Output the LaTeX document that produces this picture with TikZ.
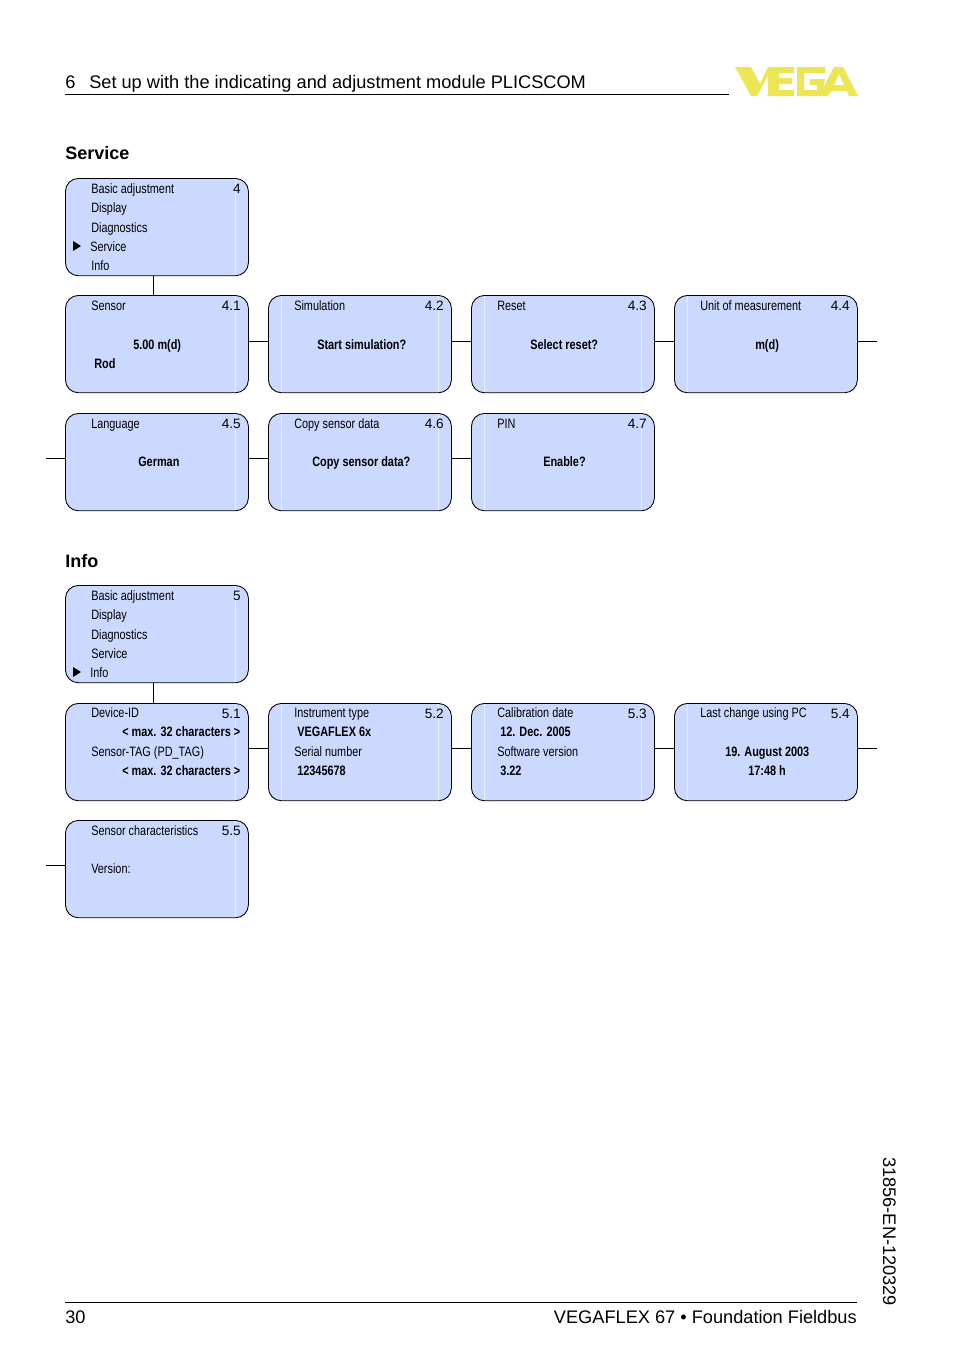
\documentclass[tikz,border=0pt]{standalone}
\usepackage{fontspec}
\setmainfont{Liberation Sans}
\newfontfamily\narrowfont[FakeStretch=0.8]{Liberation Sans}
\definecolor{boxblue}{RGB}{204,217,255}
\definecolor{vegayellow}{RGB}{236,230,85}
\tikzset{
	menubox/.style={draw, fill=boxblue, rounded corners=9.75pt, line width=0.65pt, anchor=north west, inner sep=0pt, minimum width=137.25pt, minimum height=73pt},
	seam/.style={white!60!boxblue, line width=0.6pt},
	menutext/.style={anchor=base west, inner sep=0pt, yshift=-0.75pt, font=\narrowfont\fontsize{10.2}{12}\selectfont},
	menubold/.style={anchor=base west, inner sep=0pt, font=\narrowfont\bfseries\fontsize{10.22}{12}\selectfont},
	menunum/.style={anchor=base east, inner sep=0pt, font=\fontsize{10.2}{12}\selectfont},
	headtext/.style={anchor=base west, inner sep=0pt, font=\bfseries\fontsize{13.5}{16}\selectfont},
	pagetext/.style={inner sep=0pt, font=\fontsize{13.65}{16}\selectfont},
	conn/.style={line width=0.65pt}
}
% light stripes near the box sides
\def\seamL#1{\draw[seam] ([xshift=9.75pt,yshift=-0.8pt]#1.north west)--([xshift=9.75pt,yshift=0.8pt]#1.south west);}
\def\seamR#1{\draw[seam] ([xshift=-9.75pt,yshift=-0.8pt]#1.north east)--([xshift=-9.75pt,yshift=0.8pt]#1.south east);}
\begin{document}
\begin{tikzpicture}[x=0.75pt,y=-0.75pt, line join=round]
	\useasboundingbox (0,0) rectangle (954,1354);
	% page head
	\node[pagetext,anchor=base west] (chapno) at (65,88) {6};
	\node[pagetext,anchor=base west] (chaptitle) at (89,88) {Set up with the indicating and adjustment module PLICSCOM};
	\coordinate (headl) at (65,94.7);
	\coordinate (headr) at (729,94.7);
	\draw[conn] (headl)--(headr);
	% logo
	\fill[vegayellow] (735,67)--(751,67)--(760,84)--(768,67)--(771,67)--(771,70)--(757,96)--(751,96)--cycle;
	\fill[vegayellow] (771,67)--(794,67)--(794,73)--(779,73)--(779,78)--(792,78)--(792,84)--(779,84)--(779,90)--(794,90)--(794,96)--(768,96)--(768,76)--cycle;
	\fill[vegayellow,even odd rule] (797,67)--(825,67)--(825,73)--(804,73)--(804,90)--(817,90)--(817,85)--(810,85)--(810,79)--(825,79)--(822,96)--(797,96)--cycle;
	\fill[vegayellow,even odd rule] (834,67)--(843,67)--(858,96)--(849,96)--(847,91)--(831,91)--(828,96)--(819,96)--cycle (839,74)--(834,85)--(844,85)--cycle;
	% Service
	\node[headtext] (hservice) at (65,159) {Service};
	\node[menubox] (s4) at (65,178) {};
	\node[menubox] (s41) at (65,295) {};
	\node[menubox] (s42) at (268,295) {};
	\node[menubox] (s43) at (471,295) {};
	\node[menubox] (s44) at (674,295) {};
	\node[menubox] (s45) at (65,413) {};
	\node[menubox] (s46) at (268,413) {};
	\node[menubox] (s47) at (471,413) {};
	\seamR{s4} \seamR{s41} \seamL{s42} \seamR{s42} \seamL{s43} \seamR{s43} \seamL{s44}
	\seamR{s45} \seamL{s46} \seamR{s46} \seamL{s47} \seamR{s47}
	\coordinate (tap4) at (153,286);
	\coordinate (row1) at (660,341);
	\coordinate (row2) at (660,458);
	\coordinate (row1end) at (877,341);
	\coordinate (row2start) at (46,458);
	\draw[conn] (tap4 |- s4.south)--(tap4 |- s41.north);
	\draw[conn] (s41.east |- row1)--(s42.west |- row1);
	\draw[conn] (s42.east |- row1)--(s43.west |- row1);
	\draw[conn] (s43.east |- row1)--(s44.west |- row1);
	\draw[conn] (s44.east |- row1)--(row1end);
	\draw[conn] (row2start)--(s45.west |- row2);
	\draw[conn] (s45.east |- row2)--(s46.west |- row2);
	\draw[conn] (s46.east |- row2)--(s47.west |- row2);
	\fill (73,241)--(81,246)--(73,251)--cycle;
	\node[menutext] (a1) at (91,192) {Basic adjustment};
	\node[menutext] (a2) at (91,211) {Display};
	\node[menutext] (a3) at (91,231) {Diagnostics};
	\node[menutext] (a4) at (90,250) {Service};
	\node[menutext] (a5) at (91,269) {Info};
	\node[menunum] (na) at (241,193) {4};
	\node[menutext] (b1) at (91,309) {Sensor};
	\node[menunum] (nb1) at (241,310) {4.1};
	\node[menubold] (b2) at (133,349) {5.00 m(d)};
	\node[menubold] (b3) at (94,368) {Rod};
	\node[menutext] (c1) at (294,309) {Simulation};
	\node[menunum] (nc1) at (444,310) {4.2};
	\node[menubold] (c2) at (317,349) {Start simulation?};
	\node[menutext] (d1) at (497,309) {Reset};
	\node[menunum] (nd1) at (647,310) {4.3};
	\node[menubold] (d2) at (530,349) {Select reset?};
	\node[menutext] (e1) at (700,309) {Unit of measurement};
	\node[menunum] (ne1) at (850,310) {4.4};
	\node[menubold] (e2) at (755,349) {m(d)};
	\node[menutext] (f1) at (91,427) {Language};
	\node[menunum] (nf1) at (241,428) {4.5};
	\node[menubold] (f2) at (138,466) {German};
	\node[menutext] (g1) at (294,427) {Copy sensor data};
	\node[menunum] (ng1) at (444,428) {4.6};
	\node[menubold] (g2) at (312,466) {Copy sensor data?};
	\node[menutext] (h1) at (497,427) {PIN};
	\node[menunum] (nh1) at (647,428) {4.7};
	\node[menubold] (h2) at (543,466) {Enable?};
	% Info
	\node[headtext] (hinfo) at (65,567) {Info};
	\node[menubox] (i5) at (65,585) {};
	\node[menubox] (i51) at (65,703) {};
	\node[menubox] (i52) at (268,703) {};
	\node[menubox] (i53) at (471,703) {};
	\node[menubox] (i54) at (674,703) {};
	\node[menubox] (i55) at (65,820) {};
	\seamR{i5} \seamR{i51} \seamL{i52} \seamR{i52} \seamL{i53} \seamR{i53} \seamL{i54} \seamR{i55}
	\coordinate (tap5) at (153,693);
	\coordinate (row3) at (660,748);
	\coordinate (row4) at (660,865);
	\coordinate (row3end) at (877,748);
	\coordinate (row4start) at (46,865);
	\draw[conn] (tap5 |- i5.south)--(tap5 |- i51.north);
	\draw[conn] (i51.east |- row3)--(i52.west |- row3);
	\draw[conn] (i52.east |- row3)--(i53.west |- row3);
	\draw[conn] (i53.east |- row3)--(i54.west |- row3);
	\draw[conn] (i54.east |- row3)--(row3end);
	\draw[conn] (row4start)--(i55.west |- row4);
	\fill (73,667)--(81,672)--(73,677)--cycle;
	\node[menutext] (j1) at (91,599) {Basic adjustment};
	\node[menutext] (j2) at (91,618) {Display};
	\node[menutext] (j3) at (91,638) {Diagnostics};
	\node[menutext] (j4) at (91,657) {Service};
	\node[menutext] (j5) at (90,676) {Info};
	\node[menunum] (nj) at (241,600) {5};
	\node[menutext] (k1) at (91,716) {Device-ID};
	\node[menunum] (nk) at (241,718) {5.1};
	\node[menubold] (k2) at (122,736) {< max. 32 characters >};
	\node[menutext] (k3) at (91,755) {Sensor-TAG (PD\_TAG)};
	\node[menubold] (k4) at (122,775) {< max. 32 characters >};
	\node[menutext] (l1) at (294,716) {Instrument type};
	\node[menunum] (nl) at (444,718) {5.2};
	\node[menubold] (l2) at (297,736) {VEGAFLEX 6x};
	\node[menutext] (l3) at (294,755) {Serial number};
	\node[menubold] (l4) at (297,775) {12345678};
	\node[menutext] (m1) at (497,716) {Calibration date};
	\node[menunum] (nm) at (647,718) {5.3};
	\node[menubold] (m2) at (500,736) {12. Dec. 2005};
	\node[menutext] (m3) at (497,755) {Software version};
	\node[menubold] (m4) at (500,775) {3.22};
	\node[menutext] (o1) at (700,716) {Last change using PC};
	\node[menunum] (no) at (850,718) {5.4};
	\node[menubold] (o2) at (725,756) {19. August 2003};
	\node[menubold] (o3) at (748,775) {17:48 h};
	\node[menutext] (p1) at (91,834) {Sensor characteristics};
	\node[menunum] (np) at (241,835) {5.5};
	\node[menutext] (p2) at (91,872) {Version:};
	% page foot
	\coordinate (footl) at (65,1302);
	\coordinate (footr) at (857,1302);
	\draw[conn] (footl)--(footr);
	\node[pagetext,anchor=base west] (pageno) at (65,1323) {30};
	\node[pagetext,anchor=base east] (product) at (857,1323) {VEGAFLEX 67 • Foundation Fieldbus};
	\node[pagetext,rotate=-90,anchor=base west] (docno) at (883,1157) {31856-EN-120329};
\end{tikzpicture}
\end{document}
